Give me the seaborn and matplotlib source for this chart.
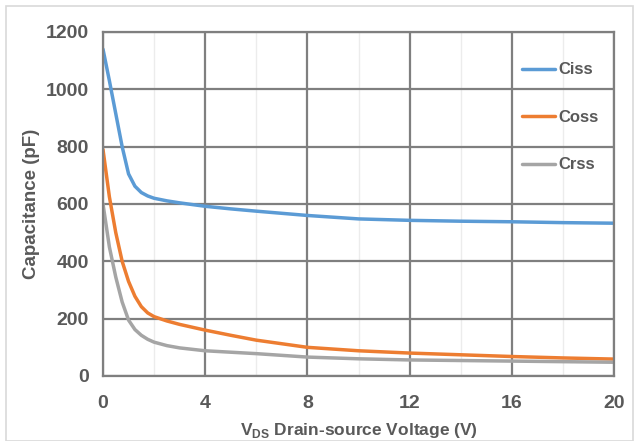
import matplotlib
matplotlib.use("Agg")
import matplotlib.pyplot as plt
import seaborn as sns
import numpy as np
import pandas as pd
from matplotlib.patches import Rectangle

# Values
vds = [0, 0.25, 0.5, 0.75, 1, 1.25, 1.5, 1.75, 2, 2.5, 3, 4, 5, 6, 8, 10, 12, 14, 16, 18, 20]
ciss = [1140, 1030, 915, 800, 705, 662, 640, 628, 620, 611, 604, 592, 583, 575, 560, 548, 543, 540, 538, 535, 533]
coss = [790, 625, 500, 400, 330, 278, 242, 220, 207, 192, 180, 160, 142, 125, 100, 88, 80, 74, 68, 63, 59]
crss = [600, 450, 345, 258, 195, 162, 142, 128, 118, 106, 98, 88, 83, 78, 66, 60, 56, 54, 52, 50, 48]
series = ["Ciss", "Coss", "Crss"]
colors = ["#5B9BD5", "#ED7D31", "#A5A5A5"]

x_ticks = [0, 4, 8, 12, 16, 20]
y_ticks = [0, 200, 400, 600, 800, 1000, 1200]

df = pd.DataFrame({"Vds": vds * 3,
                   "C": ciss + coss + crss,
                   "series": np.repeat(series, len(vds))})

sns.set_style("white")
plt.rcParams["font.family"] = ["Liberation Sans Narrow", "Liberation Sans", "DejaVu Sans"]

fig = plt.figure(figsize=(6.39, 4.41), dpi=100)
ax = fig.add_axes([103 / 639, 1 - 376 / 441, 511 / 639, 344 / 441])
fig.patches.append(Rectangle((6 / 639, 0), 1 - 12 / 639, 1 - 6 / 441,
                             transform=fig.transFigure, fill=False,
                             edgecolor="#d9d9d9", lw=1.2))

sns.lineplot(data=df, x="Vds", y="C", hue="series", palette=colors,
             linewidth=2.5, ax=ax, legend=True)

ax.set_xlim(0, 20)
ax.set_ylim(0, 1200)
ax.set_xticks(x_ticks)
ax.set_yticks(y_ticks)
ax.set_xticks(np.arange(2, 20, 4), minor=True)
ax.grid(which="major", color="#7f7f7f", lw=1.6)
ax.grid(which="minor", axis="x", color="#ececec", lw=1.0)
ax.set_axisbelow(True)
for s in ax.spines.values():
    s.set_color("#7f7f7f")
    s.set_linewidth(1.6)

ax.tick_params(axis="both", which="both", length=0, labelsize=14, colors="#595959")
ax.tick_params(axis="x", pad=14)
ax.tick_params(axis="y", pad=10)
for lab in ax.get_xticklabels() + ax.get_yticklabels():
    lab.set_fontweight("bold")

ax.set_xlabel(r"V$_{\mathregular{DS}}$ Drain-source Voltage (V)", fontsize=12.5,
              fontweight="bold", color="#595959", labelpad=6)
ax.set_ylabel("Capacitance (pF)", fontsize=13.5, fontweight="bold", color="#595959", labelpad=4)

leg = ax.legend(loc="upper left", bbox_to_anchor=(0.79, 0.955), frameon=False,
                handlelength=2.0, handletextpad=0.2, labelspacing=1.95,
                prop={"weight": "bold", "size": 12})
for t in leg.get_texts():
    t.set_color("#595959")

fig.savefig("out.png", dpi=100)
